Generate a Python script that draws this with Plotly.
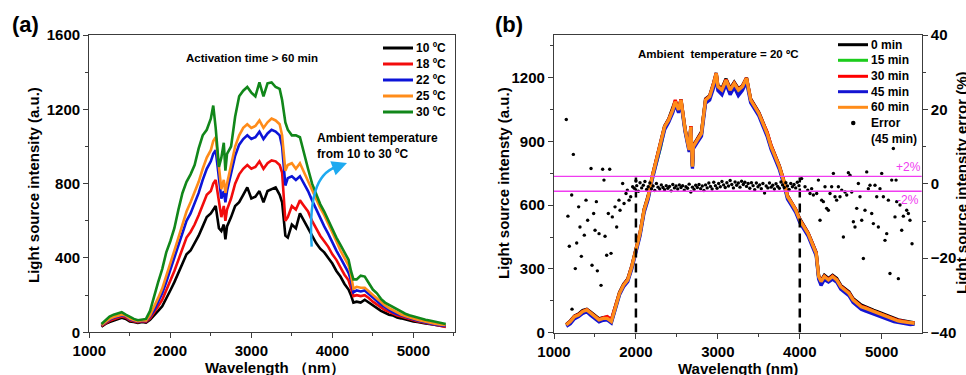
import plotly.graph_objects as go

# ---------------- Panel (a) data ----------------
WL_A = [1150,1200,1250,1300,1350,1400,1450,1500,1550,1600,
        1650,1700,1750,1800,1850,1900,1950,2000,2050,2100,
        2150,2200,2250,2300,2350,2400,2450,2500,2530,2560,
        2600,2630,2660,2680,2700,2750,2800,2850,2900,2950,
        3000,3050,3100,3150,3200,3250,3300,3350,3380,3420,
        3450,3500,3550,3600,3650,3700,3750,3800,3850,3900,
        3950,4000,4050,4100,4150,4200,4230,4260,4300,4350,
        4400,4450,4500,4550,4600,4650,4700,4750,4800,4850,
        4900,4950,5000,5050,5100,5150,5200,5250,5300,5350,
        5400]

T10 = [30,45,55,62,70,78,72,58,55,50,
       55,52,68,90,115,140,180,225,270,320,
       370,420,440,480,520,570,620,640,660,680,
       560,545,580,500,570,620,680,700,740,780,
       720,730,760,700,760,770,780,740,700,520,
       510,580,560,640,600,560,520,480,450,430,
       400,370,330,300,260,230,200,160,165,160,
       175,160,145,130,115,105,95,90,80,75,
       68,65,58,55,50,48,45,42,38,35,
       32]
T18 = [35,50,62,70,78,85,80,65,60,55,
       60,56,75,105,140,175,225,280,330,390,
       450,510,540,580,630,690,740,760,800,820,
       700,620,680,600,660,720,800,850,880,900,
       880,890,920,880,910,925,920,900,860,600,
       620,680,660,710,680,650,600,560,520,490,
       460,420,390,350,310,280,240,195,200,195,
       200,185,165,150,135,120,110,100,90,85,
       78,72,65,60,55,50,45,42,35,30,
       28]
T22 = [38,55,68,78,85,90,86,70,63,58,
       62,60,85,120,165,210,270,335,400,470,
       530,600,640,690,750,820,880,920,960,980,
       820,720,760,700,760,860,950,1010,1040,1060,
       1040,1050,1080,1040,1070,1090,1080,1060,1000,790,
       830,840,820,840,800,760,710,660,610,570,
       530,480,440,400,360,320,280,215,225,220,
       225,205,185,165,150,135,120,108,98,90,
       82,76,70,64,58,52,48,44,40,36,
       34]
T25 = [40,58,72,82,90,95,90,74,66,60,
       65,63,92,135,185,235,300,370,440,510,
       580,650,700,750,810,880,940,980,1030,1050,
       880,770,820,750,800,900,1000,1060,1100,1120,
       1100,1110,1140,1100,1130,1150,1140,1120,1060,870,
       900,910,880,910,860,820,770,720,670,630,
       580,530,490,440,400,360,310,235,245,240,
       240,220,200,180,160,145,130,118,105,96,
       88,80,74,68,62,56,52,47,43,40,
       38]
T30 = [45,65,85,95,100,108,95,82,72,65,
       70,72,115,200,270,340,430,490,560,660,
       750,810,850,900,990,1060,1090,1150,1220,1100,
       890,940,1020,870,960,1000,1160,1270,1300,1320,
       1290,1270,1345,1270,1340,1345,1320,1310,1250,1130,
       1090,1060,1060,1050,960,880,800,740,690,650,
       600,550,510,470,430,390,330,285,285,305,
       300,265,230,210,180,160,148,135,120,110,
       100,92,85,78,74,68,64,60,56,50,
       45]
SERIES_A = [("10 ºC", T10, "#000000"), ("18 ºC", T18, "#f20c0c"),
            ("22 ºC", T22, "#0c14d8"), ("25 ºC", T25, "#ff8c1a"),
            ("30 ºC", T30, "#11871a")]

# ---------------- Panel (b) data ----------------
WL_B = [1150,1200,1250,1300,1350,1400,1450,1500,1550,1600,1650,1700,1750,
        1800,1850,1900,1950,2000,2050,2100,2150,2200,2250,2300,2350,2400,2450,
        2480,2520,2550,
        2600,2650,2670,2690,2700,
        2750,2800,2850,2900,2950,
        2980,
        3000,3050,3100,3150,3200,3250,3300,3350,3400,3450,3500,3550,3600,3650,
        3700,3750,3800,3850,3900,3950,4000,4050,4100,4150,4200,
        4230,4260,
        4300,4350,4400,4450,4500,4550,4600,4650,4700,4750,4800,4850,4900,4950,
        5000,5050,5100,5150,5200,5250,5300,5350,5400]

M0 = [38,55,78,88,104,110,95,80,65,70,72,58,125,
      190,228,252,315,392,470,580,645,738,815,880,972,1005,1052,
      1090,1050,1098,
      958,865,972,785,880,
      912,945,1100,1115,1178,
      1222,
      1162,1150,1195,1148,1178,1148,1162,1200,1100,1068,1036,990,942,880,
      832,785,722,645,612,580,535,502,470,425,378,
      268,245,
      270,255,270,255,222,208,192,160,145,130,122,112,105,98,
      90,82,74,66,60,56,52,48,46]
M15 = [35,50,73,82,97,105,90,73,58,66,66,50,120,
       183,222,246,308,386,463,574,637,731,808,872,966,998,1045,
       1084,1045,1092,
       950,856,965,778,872,
       904,935,1092,1108,1170,
       1215,
       1154,1138,1185,1138,1170,1138,1155,1193,1092,1060,1028,980,934,871,
       825,778,714,636,605,574,527,496,464,417,370,
       260,236,
       260,244,258,243,212,196,180,150,134,118,110,102,94,86,
       78,70,62,56,51,48,45,40,40]
M30 = [37,53,76,85,100,108,92,76,62,70,75,60,124,
       186,225,250,312,390,468,578,641,735,813,877,970,1003,1050,
       1095,1050,1097,
       956,862,972,783,877,
       909,940,1097,1113,1175,
       1221,
       1160,1144,1191,1144,1175,1144,1160,1198,1097,1066,1034,987,945,880,
       830,783,720,642,611,579,532,501,469,422,375,
       266,242,
       266,250,266,250,218,203,187,156,140,124,118,108,101,93,
       85,77,70,62,57,54,50,46,46]
M45 = [30,42,65,75,90,98,80,65,50,58,60,45,110,
       178,216,240,300,378,455,565,628,722,800,862,955,990,1035,
       1075,1035,1082,
       945,850,958,772,865,
       895,925,1080,1095,1155,
       1205,
       1140,1120,1170,1120,1155,1115,1140,1180,1082,1052,1020,972,925,862,
       815,768,705,628,598,566,518,488,455,408,362,
       252,222,
       250,238,252,238,205,190,174,142,126,110,102,95,88,80,
       72,64,58,52,48,45,42,38,40]
M60 = [36,52,75,83,99,107,91,75,60,67,67,52,122,
       185,224,248,310,389,467,577,640,734,812,875,969,1001,1048,
       1087,1048,1095,
       954,860,969,781,875,
       907,938,1095,1111,1173,
       1220,
       1158,1142,1189,1142,1173,1142,1158,1197,1095,1064,1032,985,938,875,
       828,781,718,640,609,577,530,499,467,420,373,
       264,240,
       264,248,264,248,216,201,185,154,138,122,115,107,99,91,
       83,75,67,60,55,52,49,44,44]
SERIES_B = [("0 min", M0, "#000000"), ("15 min", M15, "#1ccc1c"),
            ("30 min", M30, "#ff0000"), ("45 min", M45, "#1414d2"),
            ("60 min", M60, "#ff8c1a")]

ERR_WL = [1150,1170,1187,1216,1220,1236,1260,1277,1301,1317,1334,1370,1391,1411,
          1452,1464,1484,1501,1517,1529,1550,1574,1594,1610,1623,1643,1663,1680,
          1696,1712,1745,1765,1793,1806,1838,1855,1879,1895,1916,1936,1960,
          1980,2000,2010,2030,2050,2070,2090,2110,2130,2150,
          2170,2190,2210,2230,2250,2270,2290,2310,2330,2350,
          2370,2390,2410,2430,2450,2470,2490,2510,2530,2550,
          2570,2590,2610,2630,2650,2670,2690,2710,2730,2750,
          2770,2790,2810,2830,2850,2870,2890,2910,2930,2950,
          2970,2990,3010,3030,3050,3070,3090,3110,3130,3150,
          3170,3190,3210,3230,3250,3270,3290,3310,3330,3350,
          3370,3390,3410,3430,3450,3470,3490,3510,3530,3550,
          3570,3590,3610,3630,3650,3670,3690,3710,3730,3750,
          3770,3790,3810,3830,3850,3870,3890,3910,3930,3950,
          3970,3990,
          4023,4064,4097,4125,4145,4166,4206,4227,4247,4267,4288,4308,4328,4349,
          4369,4389,4410,4430,4450,4471,4491,4512,4532,4552,4573,4593,4613,4634,
          4654,4674,4695,4715,4735,4756,4776,4796,4817,4837,4857,4878,4898,4918,
          4939,4959,4979,5000,5020,5040,5061,5081,5101,5122,5142,5162,5175,5183,
          5203,5223,5244,5264,5305,5325,5345,5370]
ERR_PCT = [17.3,-8.7,-16.8,-3.0,-33.7,7.9,-22.8,-15.9,-6.2,-11.6,-19.5,-13.8,-4.4,-9.8,
           4.1,-21.9,-8.0,-12.5,-4.8,-23.4,-13.4,-27.3,3.9,1.0,-14.1,-19.2,-8.0,3.9,
           -18.7,-8.9,-6.2,-11.6,-4.4,-7.1,0.1,-5.3,-2.6,-1.7,-4.4,-3.5,-0.8,
           -1.2,0.8,-0.5,-2.0,0.3,-1.1,-0.4,0.6,-1.5,-0.8,
           0.2,-1.3,-0.6,-1.8,0.1,-0.9,-1.4,-0.3,-1.0,-1.6,
           -0.5,-1.2,-0.7,-1.9,-0.2,-1.1,-0.6,-1.4,-0.3,-1.0,
           -0.5,-1.7,-0.8,-1.2,-0.1,-2.2,-0.9,-1.5,-0.4,-1.0,
           -0.2,-1.3,-0.6,-1.8,-0.3,-1.1,0.2,-0.7,-1.4,0.4,
           -0.5,-1.2,0.1,-0.8,0.6,-0.3,-1.0,0.3,-0.6,0.9,
           -0.2,-1.1,0.5,-0.4,0.2,-0.9,0.7,-0.2,0.4,-0.7,
           0.1,-1.2,0.3,-0.5,-1.6,0.2,-0.8,-0.3,-1.3,0.1,
           -2.5,-0.6,-1.1,0.2,-0.9,-0.4,-1.4,0.0,-0.7,-1.2,
           0.5,-0.3,-1.0,0.3,-0.6,-1.5,0.1,-0.8,-0.2,-1.1,
           0.4,-0.5,
           1.4,-0.8,-1.7,-2.6,-1.3,-3.0,-2.6,1.0,-9.8,-4.4,-4.8,-0.8,-6.6,-7.1,
           -2.6,-0.8,2.8,-3.5,-4.4,-0.8,-3.5,-1.7,-14.3,-2.2,-3.0,3.0,2.3,-2.2,
           -10.2,-11.6,-6.6,0.1,-3.5,-9.8,-20.1,-7.1,3.2,-1.3,-0.4,-8.0,-10.7,-0.4,
           -3.5,-11.6,-1.3,2.8,-3.5,-15.2,-13.4,-4.4,-24.1,1.0,9.5,-8.9,1.0,-4.8,
           -25.5,-5.7,-12.5,-8.7,-7.1,-8.0,-9.8,-16.1]

BAND_EDGES = [2000, 4000]
BAND_TOP = 730
ERR_LIMITS = [2, -2]

# ---------------- Figure ----------------
W, H = 966, 375
FONT = "Liberation Sans, Arial, sans-serif"
AX = "#3c3c3c"
MAGENTA = "#f03cf0"

fig = go.Figure()

for name, ys, col in SERIES_A:
    fig.add_trace(go.Scatter(x=WL_A, y=ys, mode="lines", name=name,
                             line=dict(color=col, width=2.6),
                             xaxis="x", yaxis="y", showlegend=False))

for name, ys, col in SERIES_B:
    fig.add_trace(go.Scatter(x=WL_B, y=ys, mode="lines", name=name,
                             line=dict(color=col, width=3.3),
                             xaxis="x2", yaxis="y2", showlegend=False))

fig.add_trace(go.Scatter(x=ERR_WL, y=ERR_PCT, mode="markers", name="Error (45 min)",
                         marker=dict(color="#000000", size=3.4),
                         xaxis="x2", yaxis="y3", showlegend=False))


def px_x(p):
    return p / W


def px_y(p):
    return 1 - p / H


tickfont = dict(family=FONT, size=15, color="#000", weight="bold")
common = dict(showgrid=False, zeroline=False, showline=True, linecolor=AX, linewidth=1.3,
              ticks="outside", ticklen=5, tickwidth=1.3, tickcolor=AX, tickfont=tickfont,
              automargin=False)

fig.update_layout(
    width=W, height=H, margin=dict(l=0, r=0, t=0, b=0),
    paper_bgcolor="white", plot_bgcolor="white",
    font=dict(family=FONT, color="#000"),
    showlegend=False,
    xaxis=dict(domain=[px_x(89.3), px_x(455)], range=[1000, 5514], anchor="y",
               tick0=1000, dtick=1000, mirror=True,
               minor=dict(ticks="outside", ticklen=3, dtick=500, tickcolor=AX), **common),
    yaxis=dict(domain=[px_y(332.3), px_y(35)], range=[0, 1600], anchor="x",
               tick0=0, dtick=400, mirror=True,
               minor=dict(ticks="outside", ticklen=3, dtick=200, tickcolor=AX), **common),
    xaxis2=dict(domain=[px_x(554), px_x(921.7)], range=[1000, 5488], anchor="y2",
                tick0=1000, dtick=1000, mirror=True,
                minor=dict(ticks="outside", ticklen=3, dtick=500, tickcolor=AX), **common),
    yaxis2=dict(domain=[px_y(332.6), px_y(35)], range=[0, 1401], anchor="x2",
                tick0=0, dtick=300, mirror=False,
                minor=dict(ticks="outside", ticklen=3, dtick=150, tickcolor=AX), **common),
    yaxis3=dict(overlaying="y2", side="right", anchor="x2", range=[-40, 40],
                tick0=-40, dtick=20,
                minor=dict(ticks="outside", ticklen=3, dtick=10, tickcolor=AX), **common),
)

# dashed band edges and +-2 % limits
for xv in BAND_EDGES:
    fig.add_shape(type="line", xref="x2", yref="y2", x0=xv, x1=xv, y0=0, y1=BAND_TOP,
                  line=dict(color="#000", width=2.5, dash="9px,6px"))
for lv in ERR_LIMITS:
    fig.add_shape(type="line", xref="x2 domain", yref="y3", x0=0, x1=1, y0=lv, y1=lv,
                  line=dict(color=MAGENTA, width=1.3))

# curved arrow in (a)
fig.add_shape(type="path", xref="x", yref="y",
              path="M 3745,461 C 3700,766 3848,874 4095,895",
              line=dict(color="#1eaaf0", width=2.5))
fig.add_annotation(x=4181, y=911, xref="x", yref="y", ax=-16, ay=6, text="",
                   showarrow=True, arrowhead=2, arrowsize=1.2, arrowwidth=2.5,
                   arrowcolor="#1eaaf0")


def txt(x, y, s, size=12, bold=True, color="#000", xanchor="center", angle=0):
    fig.add_annotation(x=px_x(x), y=px_y(y), xref="paper", yref="paper", text=s,
                       showarrow=False, xanchor=xanchor, yanchor="middle",
                       textangle=angle, borderpad=0,
                       font=dict(family=FONT, size=size, color=color,
                                 weight="bold" if bold else "normal"))


def legend_row(x0, x1, y, col, label):
    fig.add_shape(type="line", xref="paper", yref="paper",
                  x0=px_x(x0), x1=px_x(x1), y0=px_y(y), y1=px_y(y),
                  line=dict(color=col, width=3))
    txt(x1 + 2, y, label, size=12, xanchor="left")


# legends drawn to match the original's compact rows
LEG_A_ROWS = [48, 64, 80, 96, 112]
for (name, _, col), yy in zip(SERIES_A, LEG_A_ROWS):
    legend_row(383, 413, yy, col, name)

LEG_B_ROWS = [44.7, 60.3, 76.3, 91.7, 107.3]
for (name, _, col), yy in zip(SERIES_B, LEG_B_ROWS):
    legend_row(838, 868, yy, col, name)
fig.add_shape(type="circle", xref="paper", yref="paper",
              x0=px_x(851), x1=px_x(855.5), y0=px_y(125.3), y1=px_y(120.8),
              fillcolor="#000", line=dict(width=0))
txt(870, 123, "Error", size=12, xanchor="left")
txt(870, 139, "(45 min)", size=12, xanchor="left")

txt(25, 25, "(a)", size=22)
txt(509, 25, "(b)", size=22)
txt(252, 58, "Activation time > 60 min", size=11.5)
txt(316, 138, "Ambient temperature", size=12, xanchor="left")
txt(316, 154, "from 10 to 30 ºC", size=12, xanchor="left")
txt(718, 54, "Ambient  temperature = 20 ºC", size=11.5)
txt(908, 167, "+2%", size=12, bold=False, color=MAGENTA)
txt(908, 200, "-2%", size=12, bold=False, color=MAGENTA)
txt(33, 185, "Light source intensity (a.u.)", size=15, angle=-90)
txt(503, 183, "Light source intensty (a.u.)", size=15, angle=-90)
txt(961, 183, "Light source intensity error (%)", size=15, angle=-90)
txt(275, 367, "Wavelength （nm）", size=15)
txt(738, 368, "Wavelength (nm)", size=15)

fig.write_html("out.html", config={"displayModeBar": False},
               post_script="document.body.style.margin='0';")
